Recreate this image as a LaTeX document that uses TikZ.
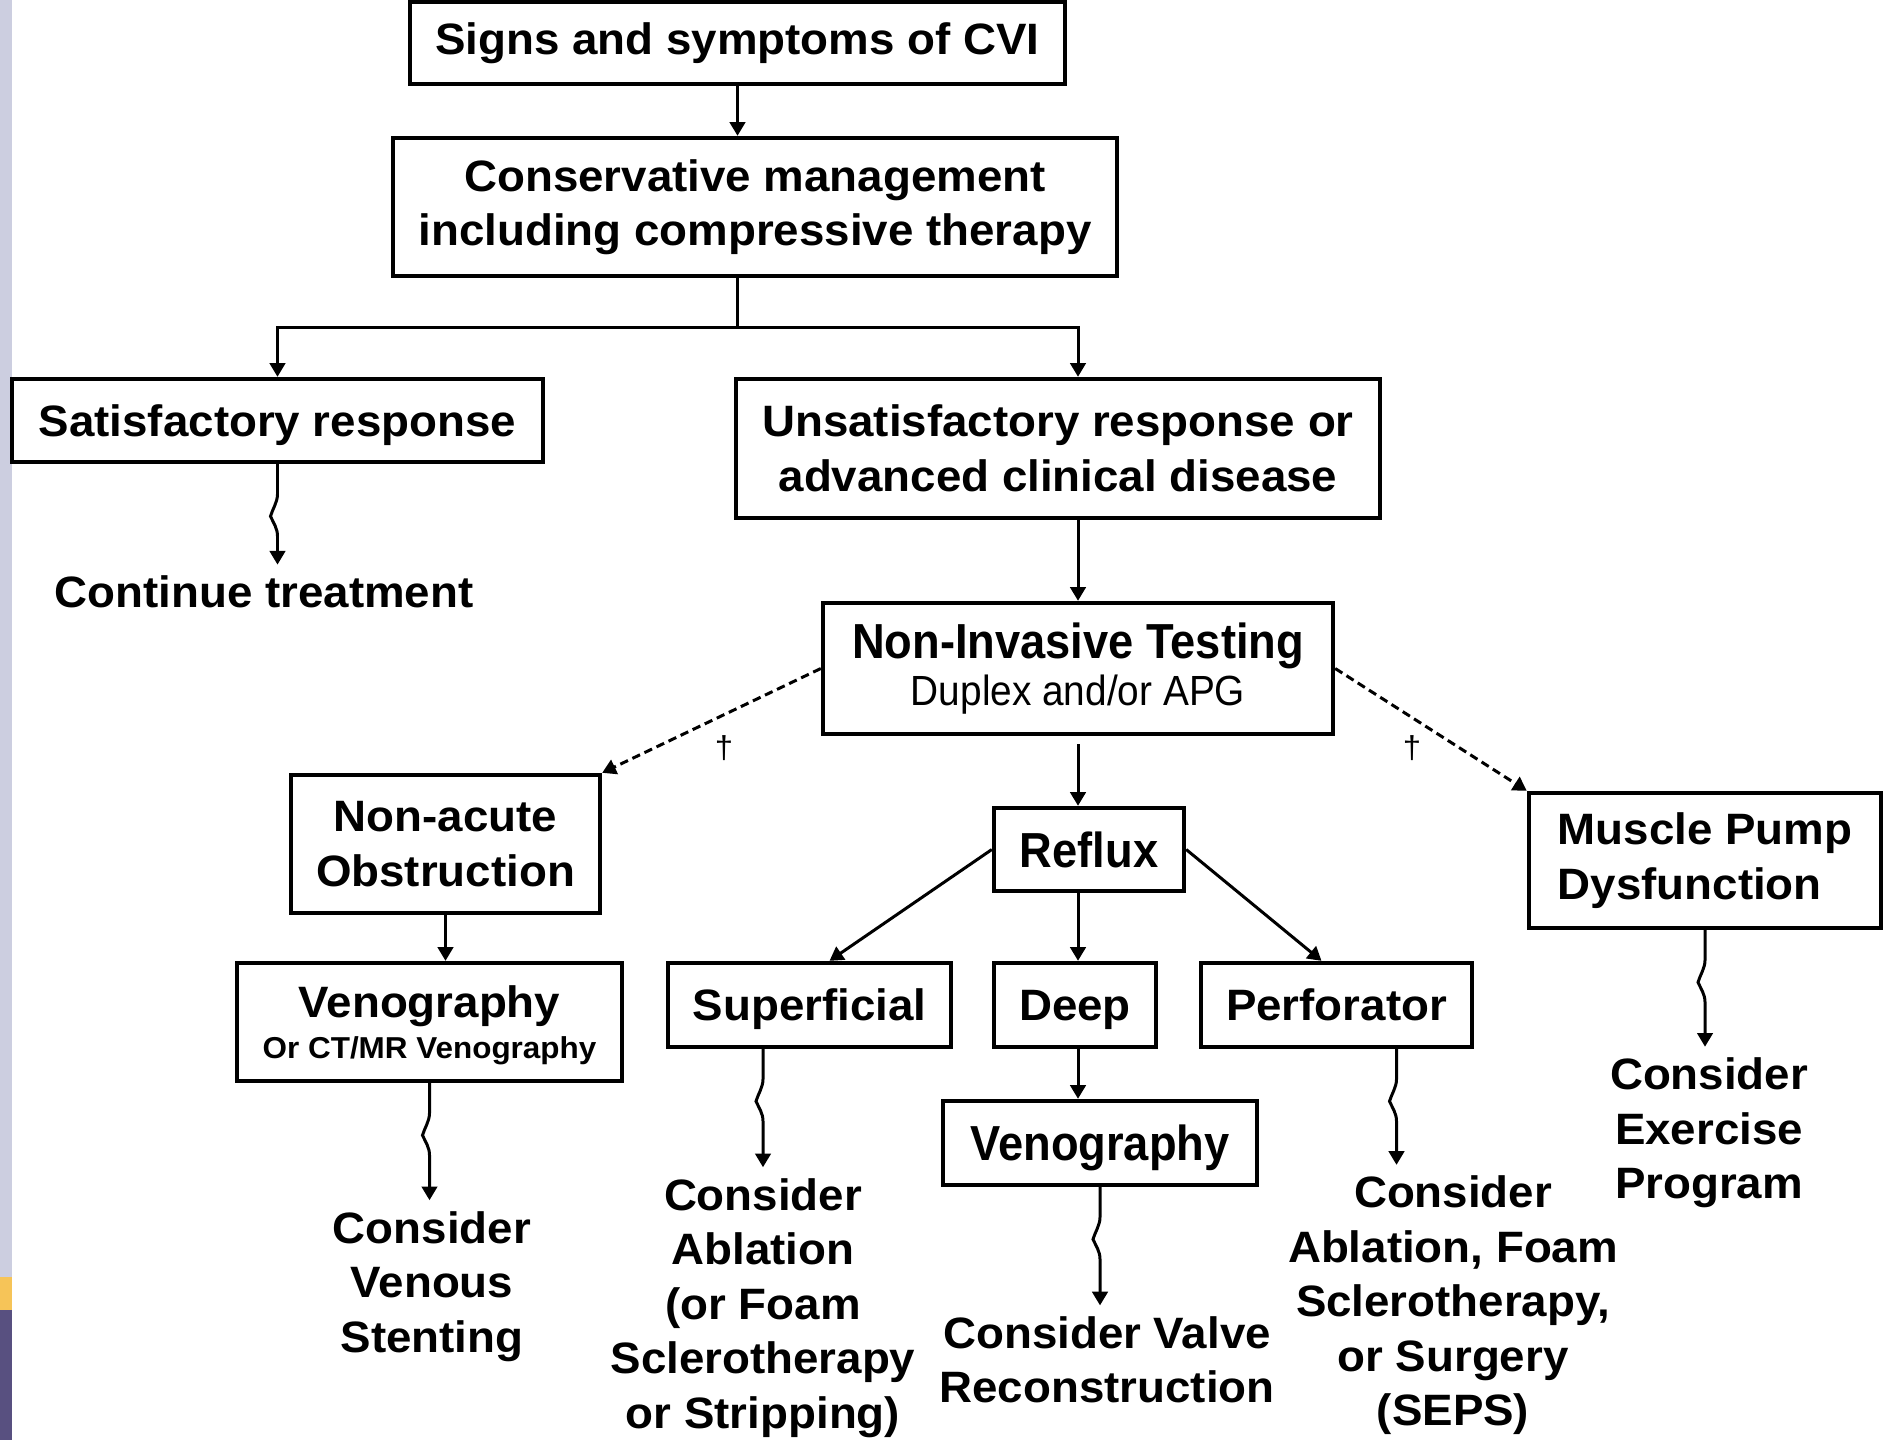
\documentclass[tikz,border=0pt]{standalone}
\usepackage{fontspec}
\setmainfont{Liberation Sans}[FakeStretch=1.04]
\newfontfamily\narrowfont{Liberation Sans}[FakeStretch=0.92]
\usepackage{tikz}
\usetikzlibrary{arrows.meta}
\definecolor{cvigray}{RGB}{204,206,224}
\definecolor{cvigold}{RGB}{246,196,88}
\definecolor{cvipurple}{RGB}{88,80,128}

\begin{document}
\begin{tikzpicture}[
    every node/.style={font=\fontsize{12.5}{15.5}\selectfont\bfseries},
    box/.style={draw, line width=1.25pt, align=center, inner sep=2pt},
    note/.style={align=center, inner sep=3pt},
    arr/.style={-{Triangle[length=3.9pt,width=4.4pt]}, line width=0.85pt},
    squig/.style={to path={-- ++(0,-0.3) .. controls +(0,-0.08) and +(0.02,0.07) .. ++(-0.07,-0.22) .. controls +(0.03,-0.07) and +(0,0.08) .. ++(0.07,-0.2) -- (\tikztotarget)}}
]
    \useasboundingbox (0,0) rectangle (18.83,-14.4);

    % Slide strip on the left
    \fill[cvigray] (0,0) rectangle (0.12,-12.77);
    \fill[cvigold] (0,-12.77) rectangle (0.12,-13.10);
    \fill[cvipurple] (0,-13.10) rectangle (0.12,-14.4);

    % Top of the chart
    \node[box, minimum width=6.55cm, minimum height=0.82cm] (sig) at (7.375,-0.43) {Signs and symptoms of CVI};
    \node[box, minimum width=7.24cm, minimum height=1.38cm] (cons) at (7.55,-2.07) {Conservative management\\including compressive therapy};

    % Response boxes
    \node[box, text depth=0pt, minimum width=5.31cm, minimum height=0.83cm] (sat) at (2.775,-4.205) {Satisfactory response};
    \node[note] (cont) at (2.64,-5.92) {Continue treatment};
    \node[box, minimum width=6.44cm, minimum height=1.39cm] (unsat) at (10.58,-4.485) {Unsatisfactory response or\\advanced clinical disease};

    % Testing
    \node[box, minimum width=5.10cm, minimum height=1.31cm] (nit) at (10.78,-6.685) {{\narrowfont\fontsize{14}{17}\selectfont Non-Invasive Testing}\\[-2.2pt]{\narrowfont\mdseries\fontsize{12}{14}\selectfont Duplex and/or APG}};
    \node[font=\fontsize{9}{11}\selectfont] (dagl) at (7.24,-7.48) {†};
    \node[font=\fontsize{9}{11}\selectfont] (dagr) at (14.12,-7.48) {†};

    % Obstruction branch
    \node[box, minimum width=3.09cm, minimum height=1.38cm] (obs) at (4.455,-8.44) {Non-acute\\Obstruction};
    \node[box, text depth=0pt, minimum width=3.85cm, minimum height=1.18cm] (veno1) at (4.295,-10.22) {Venography\\[-3.6pt]{\fontsize{8.6}{10.5}\selectfont Or CT/MR Venography}};
    \node[note] (stent) at (4.32,-12.865) {Consider\\Venous\\Stenting};

    % Reflux branch
    \node[box, minimum width=1.90cm, minimum height=0.83cm] (reflux) at (10.89,-8.495) {\narrowfont\fontsize{14}{17}\selectfont Reflux};
    \node[box, text depth=0pt, minimum width=2.83cm, minimum height=0.84cm] (sup) at (8.095,-10.05) {Superficial};
    \node[box, text depth=0pt, minimum width=1.62cm, minimum height=0.84cm] (deep) at (10.75,-10.05) {Deep};
    \node[box, text depth=0pt, minimum width=2.71cm, minimum height=0.84cm] (perf) at (13.365,-10.05) {Perforator};
    \node[box, text depth=0pt, minimum width=3.14cm, minimum height=0.84cm] (veno2) at (11.0,-11.43) {\narrowfont\fontsize{14}{17}\selectfont Venography};
    \node[note] (abl) at (7.63,-13.08) {Consider\\Ablation\\(or Foam\\Sclerotherapy\\or Stripping)};
    \node[note] (valve) at (11.07,-13.6) {Consider Valve\\Reconstruction};
    \node[note] (seps) at (14.53,-13.055) {Consider\\Ablation, Foam\\Sclerotherapy,\\or Surgery\\(SEPS)};

    % Muscle pump branch
    \node[box, align=left, minimum width=3.52cm, minimum height=1.35cm] (mpd) at (17.05,-8.605) {Muscle Pump\\Dysfunction};
    \node[note] (exer) at (17.09,-11.33) {Consider\\Exercise\\Program};

    % Connectors
    \coordinate (fork) at (7.375,-3.27);
    \draw[arr] (sig.south) -- (sig.south |- cons.north);
    \draw[line width=0.85pt] (sig.south |- cons.south) -- (fork);
    \draw[arr] (fork) -| (sat.north);
    \draw[arr] (fork) -| (nit.north |- unsat.north);
    \draw[arr] (nit.north |- unsat.south) -- (nit.north);
    \draw[arr] ([yshift=-0.08cm]nit.south) -- (nit.south |- reflux.north);
    \draw[arr] (reflux.west) -- ([xshift=0.2cm]sup.north);
    \draw[arr] (nit.south |- reflux.south) -- (nit.south |- deep.north);
    \draw[arr] (reflux.east) -- ([xshift=-0.15cm]perf.north);
    \draw[arr] (nit.south |- deep.south) -- (nit.south |- veno2.north);
    \draw[arr] (obs.south) -- (obs.south |- veno1.north);

    % Dashed branches
    \draw[arr, dash pattern=on 2.4pt off 1.4pt] (nit.west) -- (obs.north east);
    \draw[arr, dash pattern=on 2.4pt off 1.4pt] (nit.east) -- (mpd.north west);

    % Wavy arrows to the suggestions
    \draw[arr] (sat.south) to[squig] (sat.south |- cont.north);
    \draw[arr] (veno1.south) to[squig] (veno1.south |- stent.north);
    \draw[arr] (abl.north |- sup.south) to[squig] (abl.north);
    \draw[arr] (veno2.south) to[squig] (veno2.south |- valve.north);
    \draw[arr] ([xshift=0.6cm]perf.south) to[squig] ([xshift=0.6cm]perf.south |- seps.north);
    \draw[arr] (mpd.south) to[squig] (mpd.south |- exer.north);
\end{tikzpicture}
\end{document}
